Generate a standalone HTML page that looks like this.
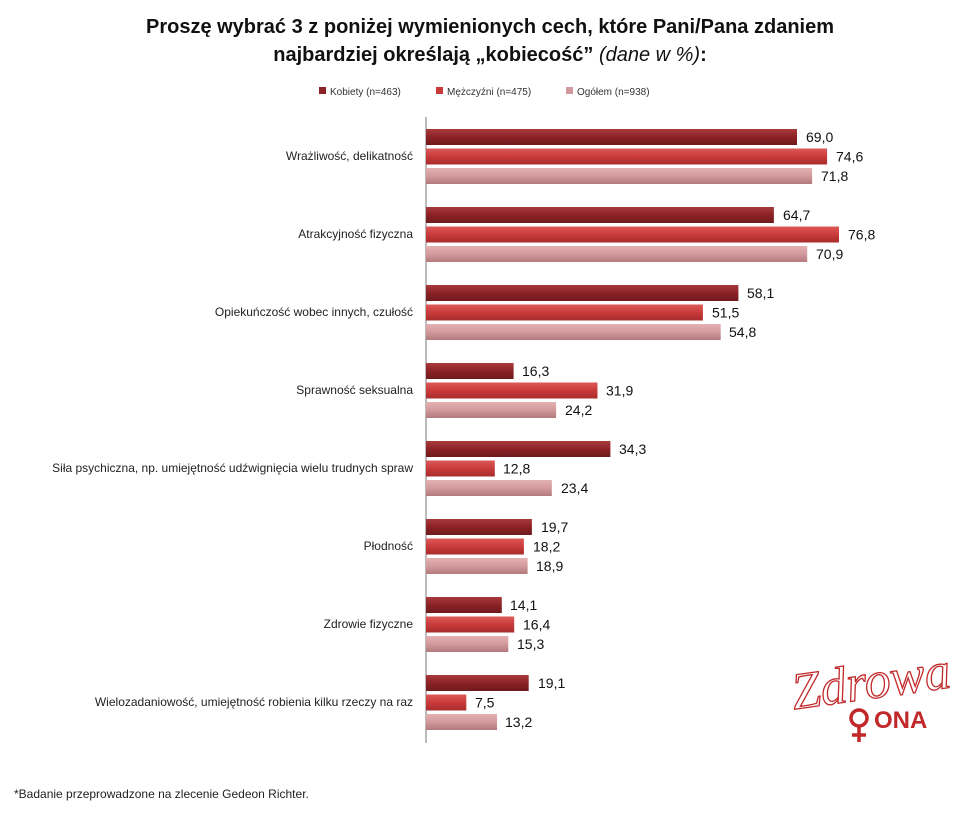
<!DOCTYPE html>
<html><head><meta charset="utf-8"><style>
body{margin:0;background:#fff;}
svg{display:block;font-family:"Liberation Sans",sans-serif;}
</style></head><body>
<svg width="979" height="825" viewBox="0 0 979 825" xmlns="http://www.w3.org/2000/svg">
<defs>
<linearGradient id="g1" x1="0" y1="0" x2="0" y2="1"><stop offset="0" stop-color="#a8393b"/><stop offset="0.5" stop-color="#8c2226"/><stop offset="1" stop-color="#6e1a1d"/></linearGradient>
<linearGradient id="g2" x1="0" y1="0" x2="0" y2="1"><stop offset="0" stop-color="#dc5a58"/><stop offset="0.5" stop-color="#c93b3a"/><stop offset="1" stop-color="#a82c2d"/></linearGradient>
<linearGradient id="g3" x1="0" y1="0" x2="0" y2="1"><stop offset="0" stop-color="#e4b1b2"/><stop offset="0.5" stop-color="#d29a9c"/><stop offset="1" stop-color="#b27a7c"/></linearGradient>
</defs>
<text x="490" y="33" text-anchor="middle" font-size="20" font-weight="bold" fill="#111">Proszę wybrać 3 z poniżej wymienionych cech, które Pani/Pana zdaniem</text>
<text x="490" y="61" text-anchor="middle" font-size="20" fill="#111"><tspan font-weight="bold">najbardziej określają „kobiecość”</tspan> <tspan font-style="italic">(dane w %)</tspan><tspan font-weight="bold">:</tspan></text>
<g font-size="10" fill="#333">
<rect x="319" y="87" width="7" height="7" fill="#8c2226"/><text x="330" y="95">Kobiety (n=463)</text>
<rect x="436" y="87" width="7" height="7" fill="#c93b3a"/><text x="447" y="95">Mężczyźni (n=475)</text>
<rect x="566" y="87" width="7" height="7" fill="#d29a9c"/><text x="577" y="95">Ogółem (n=938)</text>
</g>
<line x1="426" y1="117" x2="426" y2="743" stroke="#777" stroke-width="1"/>
<g font-size="12" fill="#222" text-anchor="end">
<text x="413" y="160">Wrażliwość, delikatność</text>
<text x="413" y="238">Atrakcyjność fizyczna</text>
<text x="413" y="316">Opiekuńczość wobec innych, czułość</text>
<text x="413" y="394">Sprawność seksualna</text>
<text x="413" y="472">Siła psychiczna, np. umiejętność udźwignięcia wielu trudnych spraw</text>
<text x="413" y="550">Płodność</text>
<text x="413" y="628">Zdrowie fizyczne</text>
<text x="413" y="706">Wielozadaniowość, umiejętność robienia kilku rzeczy na raz</text>
</g>
<g font-size="14" fill="#111">
<rect x="426" y="129" width="371.0" height="16" fill="url(#g1)"/><text x="806" y="142">69,0</text>
<rect x="426" y="148.5" width="401.1" height="16" fill="url(#g2)"/><text x="836" y="161.5">74,6</text>
<rect x="426" y="168" width="386.1" height="16" fill="url(#g3)"/><text x="821" y="181">71,8</text>

<rect x="426" y="207" width="347.9" height="16" fill="url(#g1)"/><text x="783" y="220">64,7</text>
<rect x="426" y="226.5" width="413.0" height="16" fill="url(#g2)"/><text x="848" y="239.5">76,8</text>
<rect x="426" y="246" width="381.2" height="16" fill="url(#g3)"/><text x="816" y="259">70,9</text>

<rect x="426" y="285" width="312.4" height="16" fill="url(#g1)"/><text x="747" y="298">58,1</text>
<rect x="426" y="304.5" width="276.9" height="16" fill="url(#g2)"/><text x="712" y="317.5">51,5</text>
<rect x="426" y="324" width="294.7" height="16" fill="url(#g3)"/><text x="729" y="337">54,8</text>

<rect x="426" y="363" width="87.6" height="16" fill="url(#g1)"/><text x="522" y="376">16,3</text>
<rect x="426" y="382.5" width="171.5" height="16" fill="url(#g2)"/><text x="606" y="395.5">31,9</text>
<rect x="426" y="402" width="130.1" height="16" fill="url(#g3)"/><text x="565" y="415">24,2</text>

<rect x="426" y="441" width="184.4" height="16" fill="url(#g1)"/><text x="619" y="454">34,3</text>
<rect x="426" y="460.5" width="68.8" height="16" fill="url(#g2)"/><text x="503" y="473.5">12,8</text>
<rect x="426" y="480" width="125.8" height="16" fill="url(#g3)"/><text x="561" y="493">23,4</text>

<rect x="426" y="519" width="105.9" height="16" fill="url(#g1)"/><text x="541" y="532">19,7</text>
<rect x="426" y="538.5" width="97.9" height="16" fill="url(#g2)"/><text x="533" y="551.5">18,2</text>
<rect x="426" y="558" width="101.6" height="16" fill="url(#g3)"/><text x="536" y="571">18,9</text>

<rect x="426" y="597" width="75.8" height="16" fill="url(#g1)"/><text x="510" y="610">14,1</text>
<rect x="426" y="616.5" width="88.2" height="16" fill="url(#g2)"/><text x="523" y="629.5">16,4</text>
<rect x="426" y="636" width="82.3" height="16" fill="url(#g3)"/><text x="517" y="649">15,3</text>

<rect x="426" y="675" width="102.7" height="16" fill="url(#g1)"/><text x="538" y="688">19,1</text>
<rect x="426" y="694.5" width="40.3" height="16" fill="url(#g2)"/><text x="475" y="707.5">7,5</text>
<rect x="426" y="714" width="71.0" height="16" fill="url(#g3)"/><text x="505" y="727">13,2</text>
</g>
<text x="14" y="798" font-size="12" fill="#222">*Badanie przeprowadzone na zlecenie Gedeon Richter.</text>
<text x="792" y="700" font-family="Liberation Serif,serif" font-style="italic" font-size="52" fill="none" stroke="#c0282a" stroke-width="1.3" transform="rotate(-8 860 690)">Zdrowa</text>
<text x="874" y="728" font-size="24" font-weight="bold" fill="#c0282a">ONA</text>
<circle cx="859" cy="718" r="8" fill="none" stroke="#c0282a" stroke-width="3.5"/>
<line x1="859" y1="726" x2="859" y2="742" stroke="#c0282a" stroke-width="3.5"/>
<line x1="852" y1="735" x2="866" y2="735" stroke="#c0282a" stroke-width="3.5"/>
</svg>
</body></html>
